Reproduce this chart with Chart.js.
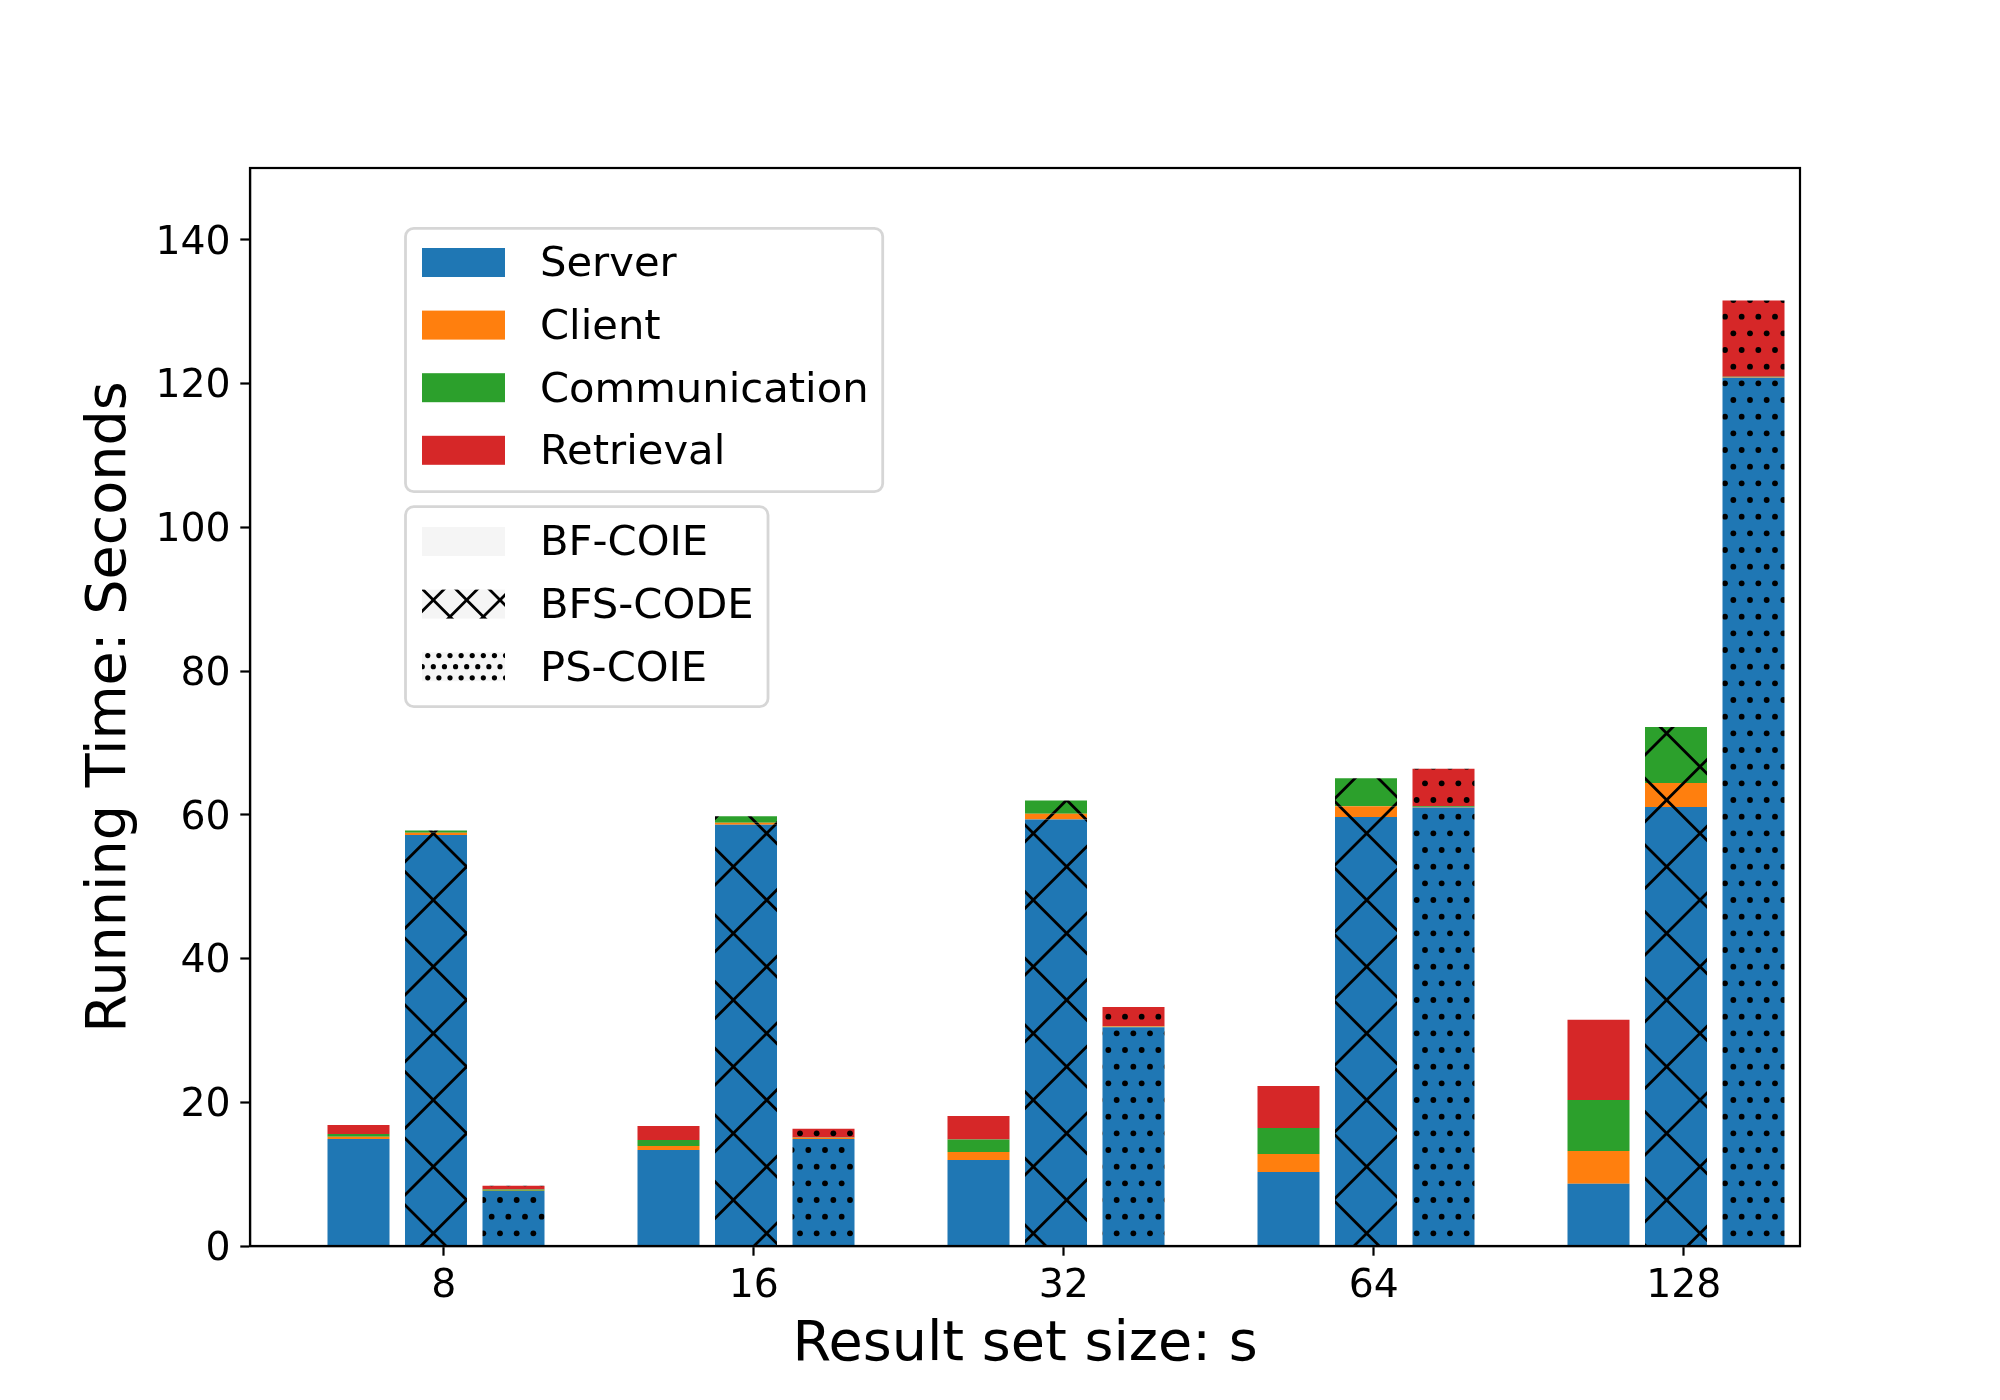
<!DOCTYPE html>
<html><head><meta charset="utf-8">
<script src="https://cdn.jsdelivr.net/npm/chart.js@4.4.0/dist/chart.umd.min.js"></script>
<style>html,body{margin:0;padding:0;background:#fff;} canvas{display:block;}</style>
</head><body>
<canvas id="c" width="2000" height="1400"></canvas>
<script>
// ---- data ----
const categories = ['8', '16', '32', '64', '128'];
const methods = ['BF-COIE', 'BFS-CODE', 'PS-COIE'];
const components = ['Server', 'Client', 'Communication', 'Retrieval'];
const yTickValues = [0, 20, 40, 60, 80, 100, 120, 140];

const bfServer    = [14.9, 13.36, 11.97, 10.3, 8.67];
const bfClient    = [0.3, 0.55, 1.1, 2.5, 4.55];
const bfComm      = [0.4, 0.85, 1.76, 3.62, 7.1];
const bfRetrieval = [1.25, 1.95, 3.25, 5.84, 11.15];

const bfsServer    = [57.2, 58.6, 59.33, 59.7, 61.08];
const bfsClient    = [0.3, 0.3, 0.8, 1.5, 3.35];
const bfsComm      = [0.3, 0.9, 1.85, 3.9, 7.8];
const bfsRetrieval = [0, 0, 0, 0, 0];

const psServer    = [7.65, 14.9, 30.45, 61.0, 120.8];
const psClient    = [0.05, 0.15, 0.1, 0.1, 0.1];
const psComm      = [0.15, 0.05, 0.02, 0.1, 0.05];
const psRetrieval = [0.55, 1.2, 2.7, 5.2, 10.6];

// ---- styling ----
const compColors = ['#1f77b4', '#ff7f0e', '#2ca02c', '#d62728'];
const methodHatch = ['', 'x', '.'];
const methodOffsets = [-0.275, -0.025, 0.225];
const FONT = 'DejaVu Sans';

const patternCache = {};
// dens: number of hatch periods per 200px tile
function makeFill(color, hatch, fine) {
  if (!hatch) return color;
  const key = color + hatch + (fine ? 'f' : '');
  if (patternCache[key]) return patternCache[key];
  const T = 200;
  const cv = document.createElement('canvas');
  cv.width = T; cv.height = T;
  const g = cv.getContext('2d');
  g.fillStyle = color; g.fillRect(0, 0, T, T);
  g.fillStyle = '#000'; g.strokeStyle = '#000';
  if (hatch === 'x') {
    const n = fine ? 6 : 3;
    const d = T / n;
    g.lineWidth = 2.8;
    g.beginPath();
    for (let k = -n - 1; k <= 2 * n + 1; k++) {
      const c = k * d;
      g.moveTo(c, 0); g.lineTo(c - T, T);
      g.moveTo(c, 0); g.lineTo(c + T, T);
    }
    g.stroke();
  } else if (hatch === '.') {
    const n = fine ? 18 : 12;
    const d = T / n;
    const r = fine ? 2.6 : 2.9;
    for (let j = -1; j <= n + 1; j++) {
      for (let i = -1; i <= n + 1; i++) {
        const x = i * d + ((j % 2 !== 0) ? d / 2 : 0);
        const y = j * d;
        g.beginPath(); g.arc(x, y, r, 0, Math.PI * 2); g.fill();
      }
    }
  }
  const p = document.getElementById('c').getContext('2d').createPattern(cv, 'repeat');
  patternCache[key] = p;
  return p;
}

const compData = [
  [bfServer, bfsServer, psServer],
  [bfClient, bfsClient, psClient],
  [bfComm, bfsComm, psComm],
  [bfRetrieval, bfsRetrieval, psRetrieval]
];

const datasets = components.map((name, c) => {
  const data = [], bg = [];
  methods.forEach((m, mi) => {
    categories.forEach((cat, i) => {
      data.push({ x: i + methodOffsets[mi], y: compData[c][mi][i] });
      bg.push(makeFill(compColors[c], methodHatch[mi], false));
    });
  });
  return {
    label: name, data, backgroundColor: bg, borderWidth: 0,
    grouped: false, categoryPercentage: 0.8, barPercentage: 1.0
  };
});

function roundRect(ctx, x, y, w, h, r) {
  ctx.beginPath();
  ctx.moveTo(x + r, y);
  ctx.lineTo(x + w - r, y); ctx.arcTo(x + w, y, x + w, y + r, r);
  ctx.lineTo(x + w, y + h - r); ctx.arcTo(x + w, y + h, x + w - r, y + h, r);
  ctx.lineTo(x + r, y + h); ctx.arcTo(x, y + h, x, y + h - r, r);
  ctx.lineTo(x, y + r); ctx.arcTo(x, y, x + r, y, r);
  ctx.closePath();
}

const framePlugin = {
  id: 'frameAndLegends',
  afterDraw(chart) {
    const { ctx, chartArea: a } = chart;
    ctx.save();
    ctx.strokeStyle = '#000'; ctx.lineWidth = 2.2;
    ctx.strokeRect(a.left, a.top, a.right - a.left, a.bottom - a.top);

    const boxes = [
      { x: 405.5, y: 228.3, w: 477.2, h: 263.4, first: 262.5,
        items: components.map((n, i) => ({ label: n, fill: compColors[i] })) },
      { x: 405.5, y: 506.7, w: 362.5, h: 200, first: 541.5,
        items: methods.map((n, i) => ({ label: n, fill: makeFill('#f5f5f5', methodHatch[i], true) })) }
    ];
    boxes.forEach(b => {
      roundRect(ctx, b.x, b.y, b.w, b.h, 8.3);
      ctx.fillStyle = 'rgba(255,255,255,0.8)'; ctx.fill();
      ctx.strokeStyle = 'rgba(204,204,204,0.8)'; ctx.lineWidth = 2.8; ctx.stroke();
      b.items.forEach((it, k) => {
        const cy = b.first + k * 62.6;
        ctx.fillStyle = it.fill;
        ctx.fillRect(422, cy - 14.5, 83, 29);
        ctx.fillStyle = '#000';
        ctx.font = '41.7px "' + FONT + '"';
        ctx.textAlign = 'left'; ctx.textBaseline = 'middle';
        ctx.fillText(it.label, 540, cy + 3);
      });
    });
    ctx.restore();
  }
};

const tickFont = { family: FONT, size: 39.4 };
const titleFont = { family: FONT, size: 55.6 };

new Chart(document.getElementById('c'), {
  type: 'bar',
  data: { datasets },
  options: {
    responsive: false, animation: false, devicePixelRatio: 1, events: [],
    layout: { padding: { left: 0, top: 168, right: 200, bottom: 0 } },
    plugins: { legend: { display: false }, tooltip: { enabled: false }, title: { display: false } },
    scales: {
      x: {
        type: 'linear', offset: false, bounds: 'data', stacked: true,
        min: -0.625, max: 4.375,
        grid: { display: true, offset: false, drawOnChartArea: false, drawTicks: true, tickLength: 9.7, tickWidth: 2.2, tickColor: '#000' },
        border: { display: true, color: '#000', width: 2.2 },
        ticks: { font: tickFont, color: '#000', padding: 7, autoSkip: false, maxRotation: 0,
                 callback: (v, i) => categories[i] },
        afterBuildTicks: (s) => { s.ticks = categories.map((c, i) => ({ value: i })); },
        afterFit: (s) => { s.height = 154; },
        title: { display: true, text: 'Result set size: s', font: titleFont, color: '#000', padding: { top: 0, bottom: 21 } }
      },
      y: {
        type: 'linear', stacked: true, bounds: 'data', min: 0, max: 150,
        grid: { display: true, drawOnChartArea: false, drawTicks: true, tickLength: 9.7, tickWidth: 2.2, tickColor: '#000' },
        border: { display: true, color: '#000', width: 2.2 },
        ticks: { font: tickFont, color: '#000', padding: 9.7, labelOffset: 3.5, callback: (v) => String(v) },
        afterBuildTicks: (s) => { s.ticks = yTickValues.map(v => ({ value: v })); },
        afterFit: (s) => { s.width = 250; },
        title: { display: true, text: 'Running Time: Seconds', font: titleFont, color: '#000', padding: { top: 77.6, bottom: 0 } }
      }
    }
  },
  plugins: [framePlugin]
});
</script>
</body></html>
